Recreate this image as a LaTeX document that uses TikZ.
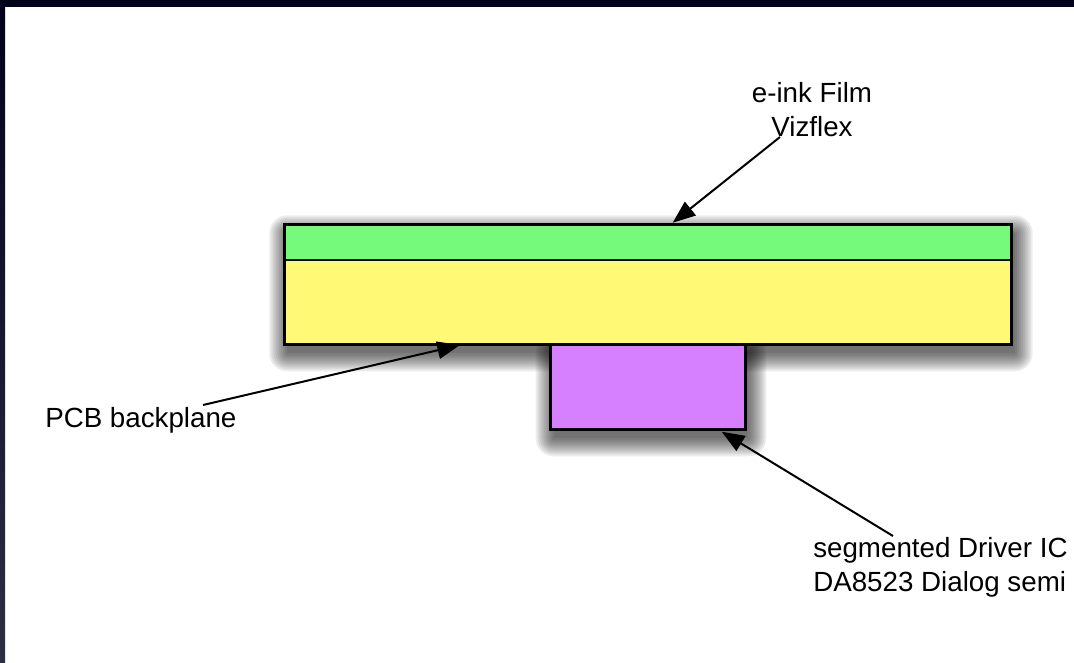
\documentclass[tikz,border=0pt]{standalone}
\usepackage{fontspec}
\setmainfont{Liberation Sans}
\usetikzlibrary{arrows.meta}
\definecolor{frametop}{RGB}{2,2,26}
\definecolor{framelow}{RGB}{44,46,66}
\definecolor{filmgreen}{RGB}{118,250,123}
\definecolor{pcbyellow}{RGB}{255,249,118}
\definecolor{icpurple}{RGB}{214,128,255}
\newcommand\castshadow[4]{%
  \foreach \r in {0,2,...,18} {%
    \pgfmathsetmacro\rc{0.75*\r}%
    \fill[black, opacity=0.075, rounded corners=\rc pt]
      ({#1-\r+3},{#2-\r+9}) rectangle ({#3+\r+3},{#4+\r+9});
  }%
}
\begin{document}
\begin{tikzpicture}[x=0.75pt, y=-0.75pt,
  layerbox/.style={draw=black, line width=2pt, inner sep=0pt, outer sep=0pt, anchor=north west},
  lbl/.style={font=\fontsize{20.8}{25.3}\selectfont, inner sep=0pt, text=black},
  pointer/.style={line width=1.5pt, -{Triangle[length=17pt,width=13pt]}}]
\useasboundingbox (0,0) rectangle (1074,662);
\fill[white] (0,0) rectangle (1074,662);
\shade[top color=frametop, bottom color=framelow] (0,0) rectangle (5,662);
\fill[frametop] (0,0) rectangle (1074,7);

% shadows
\castshadow{284.3}{224.3}{1011.7}{344.3}
\castshadow{550.7}{344.3}{745.3}{429.3}

% layers
\node[layerbox, fill=pcbyellow, minimum width=727.4*0.75pt, minimum height=120*0.75pt] (pcb) at (284.3,224.3) {};
\node[layerbox, fill=filmgreen, minimum width=727.4*0.75pt, minimum height=35.7*0.75pt] (film) at (284.3,224.3) {};
\node[layerbox, fill=icpurple, minimum width=194.6*0.75pt, minimum height=85*0.75pt] (ic) at (550.7,344.3) {};

% labels
\node[lbl, anchor=north, align=center] (filmlbl) at (812,82) {e-ink Film\\Vizflex};
\node[lbl, anchor=base west] (pcblbl) at (45,427) {PCB backplane};
\node[lbl, anchor=north west, align=left] (iclbl) at (813,537) {segmented Driver IC\\DA8523 Dialog semi};

% connectors
\coordinate (filmtail) at (780,137);
\coordinate (filmtip) at (672.7,222.7);
\coordinate (pcbtail) at (203,405);
\coordinate (pcbtip) at (460,345);
\coordinate (ictail) at (893,536);
\coordinate (ictip) at (721.7,431.7);
\draw[pointer] (filmtail) -- (filmtip);
\draw[pointer] (pcbtail) -- (pcbtip);
\draw[pointer] (ictail) -- (ictip);
\end{tikzpicture}
\end{document}
